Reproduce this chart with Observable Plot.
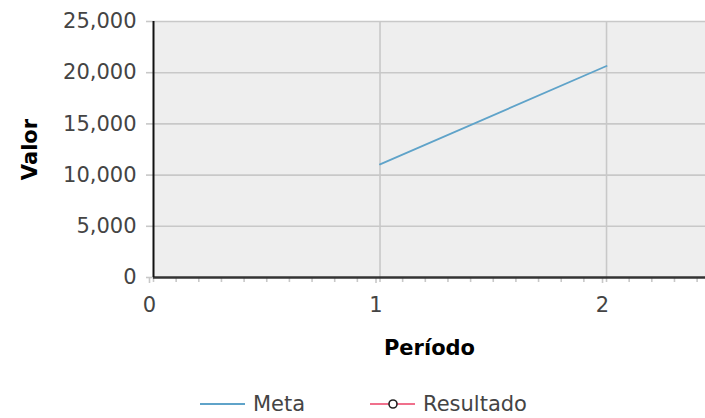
<!DOCTYPE html>
<html><head><meta charset="utf-8">
<script src="https://cdn.jsdelivr.net/npm/d3@7"></script>
<script src="https://cdn.jsdelivr.net/npm/@observablehq/plot@0.6"></script>
<style>
body{margin:0;background:#fff;font-family:"DejaVu Sans",sans-serif;}
#wrap{position:relative;width:705px;height:418px;overflow:hidden;background:#fff}
#legend{position:absolute;left:0;top:384px;width:705px;height:40px;font-size:21px;color:#444}
.item{position:absolute;top:0;height:40px;display:flex;align-items:center}
.item svg{display:block}
#chart svg [aria-label="x-axis label"] text, #chart svg [aria-label="y-axis label"] text{font-weight:bold;fill:#000}
</style></head>
<body>
<div id="wrap"><div id="chart"></div><div id="legend"></div></div>
<script>
const periodos = [1, 2];
const meta = [11050, 20650];
const resultadoPeriodos = [];
const resultado = [];
const seriesNames = ["Meta", "Resultado"];
const seriesColors = ["#5fa3c9", "#f0708c"];
const yTicks = [0, 5000, 10000, 15000, 20000, 25000];
const xTicks = [0, 1, 2];
const xMinorTicks = d3.range(0, 25).map(i => i / 10);
const xLabel = "Período";
const yLabel = "Valor";

const metaData = periodos.map((p, i) => ({periodo: p, valor: meta[i]}));
const resData = resultadoPeriodos.map((p, i) => ({periodo: p, valor: resultado[i]}));

const chart = Plot.plot({
  width: 705,
  height: 384,
  marginTop: 21,
  marginBottom: 107,
  marginLeft: 153,
  marginRight: 0,
  style: {fontFamily: "DejaVu Sans, sans-serif", fontSize: "21px", color: "#444", background: "transparent", overflow: "visible"},
  x: {domain: [0, 2.437]},
  y: {domain: [0, 25000]},
  marks: [
    Plot.frame({fill: "#eeeeee", stroke: null}),
    Plot.gridY(yTicks.slice(1), {stroke: "#c8c8c8", strokeOpacity: 1, strokeWidth: 1.6}),
    Plot.gridX(xTicks.slice(1), {stroke: "#c8c8c8", strokeOpacity: 1, strokeWidth: 1.6}),
    Plot.axisY(yTicks, {tickSize: 7, tickPadding: 10, stroke: "#c8c8c8", strokeWidth: 1.6, tickFormat: d3.format(","), fill: "#444",
      label: yLabel, labelAnchor: "center", labelArrow: "none", labelOffset: 131}),
    Plot.axisX(xMinorTicks, {tickSize: 5, stroke: "#c8c8c8", strokeWidth: 1.6, text: null, label: null}),
    Plot.axisX(xTicks, {tickSize: 6, tickPadding: 14, stroke: "#c8c8c8", strokeWidth: 1.6, fill: "#444", dx: -4,
      tickFormat: d3.format("d"),
      label: xLabel, labelAnchor: "center", labelArrow: "none", labelOffset: 77}),
    Plot.ruleY([0], {stroke: "#333", strokeWidth: 2.5}),
    Plot.ruleX([0], {stroke: "#111", strokeWidth: 2}),
    Plot.line(metaData, {x: "periodo", y: "valor", stroke: seriesColors[0], strokeWidth: 1.8}),
    Plot.line(resData, {x: "periodo", y: "valor", stroke: seriesColors[1], strokeWidth: 1.8}),
    Plot.dot(resData, {x: "periodo", y: "valor", stroke: "#222", fill: "#fff", r: 4})
  ]
});
document.getElementById("chart").appendChild(chart);

const legend = document.getElementById("legend");
const lefts = [200, 370];
seriesNames.forEach((name, i) => {
  const it = document.createElement("div");
  it.className = "item";
  it.style.left = lefts[i] + "px";
  const marker = i === 1 ? `<circle cx="23" cy="10" r="4" fill="#fff" stroke="#222" stroke-width="1.6"/>` : "";
  it.innerHTML = `<svg width="45" height="20"><line x1="0" x2="45" y1="10" y2="10" stroke="${seriesColors[i]}" stroke-width="1.8"/>${marker}</svg><span style="margin-left:8px">${name}</span>`;
  legend.appendChild(it);
});
</script>
</body></html>
